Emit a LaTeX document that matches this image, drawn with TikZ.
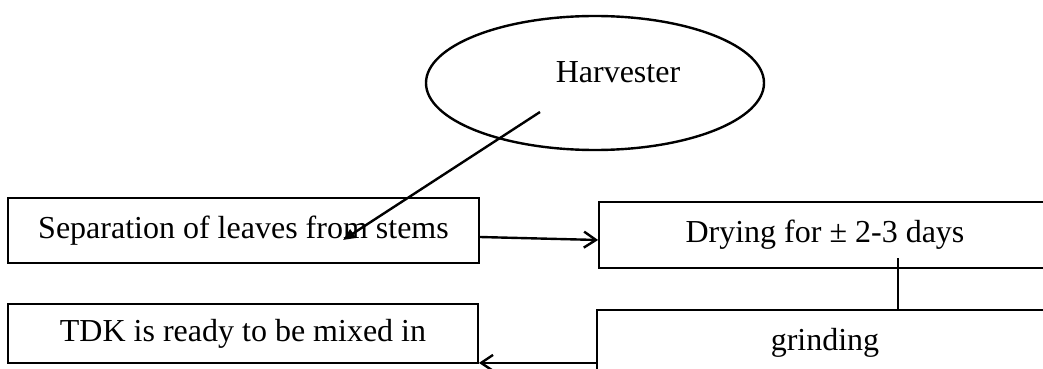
\documentclass[tikz,border=0pt]{standalone}
\usepackage{fontspec}
\setmainfont{Liberation Serif}
\usepackage{tikz}
\usetikzlibrary{arrows.meta,shapes.geometric}

\begin{document}
\begin{tikzpicture}[x=0.5pt,y=-0.5pt,font=\fontsize{16}{19}\selectfont,
  stepbox/.style={draw,line width=0.9pt,inner sep=0pt},
  flow/.style={-{Straight Barb[length=6pt,width=8pt,line width=1.2pt]},line width=1.2pt}]
  \path[use as bounding box,clip] (0,0) rectangle (1043,369);
  \node[ellipse,draw,line width=1.2pt,minimum width=169pt,minimum height=67pt] (harvest) at (595,83) {};
  \node (harvtxt) at (618,72) {Harvester};
  \node[stepbox,minimum width=235.5pt,minimum height=32.5pt] (sep) at (243.5,230.5) {Separation of leaves from stems};
  \node[stepbox,minimum width=226pt,minimum height=33pt] (dry) at (825,235) {Drying for ± 2-3 days};
  \node[stepbox,minimum width=228pt,minimum height=32.5pt] (grind) at (825,342.5) {grinding};
  \node[stepbox,minimum width=235pt,minimum height=29.5pt] (tdk) at (243,333.5) {TDK is ready to be mixed in};
  % connectors
  \coordinate (hfrom) at (540,112);
  \coordinate (hto) at (343,240);
  \draw[-{Triangle[length=6pt,width=5pt]},line width=1.2pt] (hfrom) -- (hto);
  \draw[flow] ([yshift=-3.25pt]sep.east) -- ([yshift=-2.5pt]dry.west);
  \coordinate (dtop) at (898,258);
  \draw[line width=1.2pt] (dtop) -- (dtop |- grind.north);
  \draw[flow] ([yshift=0.5pt]grind.west |- tdk.south east) -- ([yshift=0.5pt]tdk.south east);
\end{tikzpicture}
\end{document}
